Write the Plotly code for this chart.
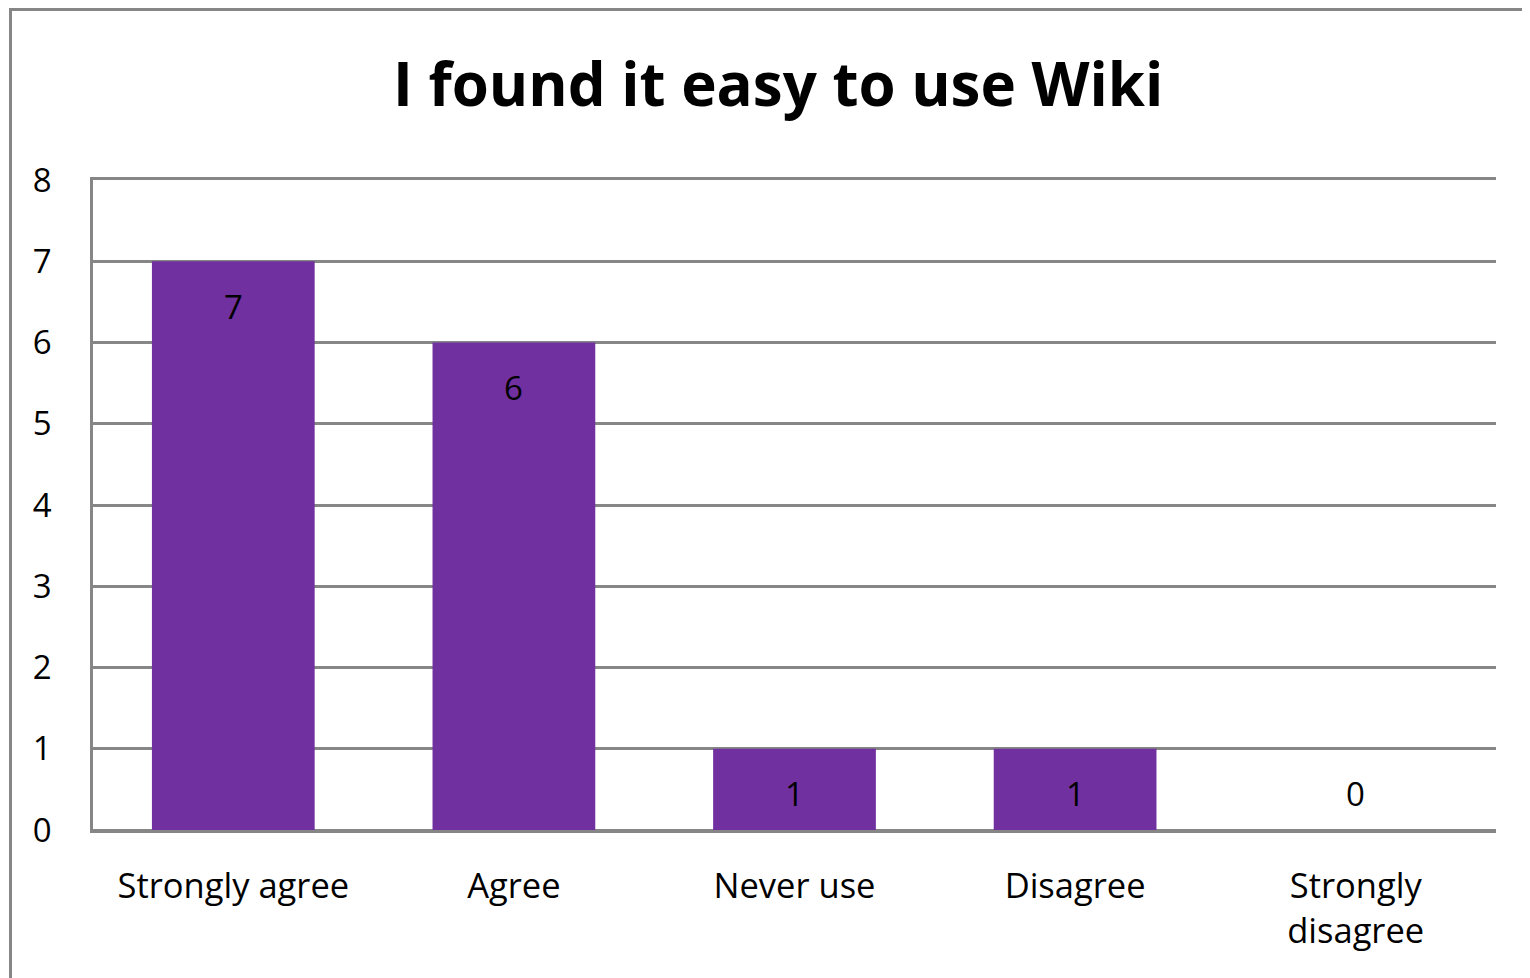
import plotly.graph_objects as go

categories = ["Strongly agree", "Agree", "Never use", "Disagree", "Strongly<br>disagree"]
values = [7, 6, 1, 1, 0]
y_ticks = [0, 1, 2, 3, 4, 5, 6, 7, 8]

PURPLE = "#7030A0"
GRID = "#868686"
FONT = "Open Sans"

fig = go.Figure(go.Bar(
    x=categories, y=values, marker_color=PURPLE, marker_line_width=0,
    hoverinfo="skip",
))

for c, v in zip(categories, values):
    fig.add_annotation(x=c, y=v, text=str(v), showarrow=False,
                       yshift=-45 if v > 0 else 37,
                       font=dict(family=FONT, size=33, color="black"))

# outer chart border
fig.add_shape(type="rect", xref="paper", yref="paper",
              x0=-0.0588, x1=1.1, y0=-0.4, y1=1.2625,
              line=dict(color=GRID, width=3), fillcolor="rgba(0,0,0,0)", layer="below")

fig.update_layout(
    width=1522, height=970,
    margin=dict(l=85, r=34, t=172, b=148),
    paper_bgcolor="white", plot_bgcolor="white",
    bargap=0.42,
    showlegend=False,
    title=dict(text="<b>I found it easy to use Wiki</b>", x=0.506, xanchor="center",
               y=0.921, yanchor="middle",
               font=dict(family=FONT, size=60, color="black")),
    font=dict(family=FONT, size=33, color="black"),
)
fig.update_xaxes(showgrid=False, showline=True, mirror=True, linecolor=GRID, linewidth=2.5,
                 ticks="", ticklabelstandoff=24,
                 tickfont=dict(family=FONT, size=34.5, color="black"))
fig.update_yaxes(range=[0, 8], tickvals=y_ticks, showgrid=True, gridcolor=GRID, gridwidth=2.5,
                 zeroline=True, zerolinecolor=GRID, zerolinewidth=2.5,
                 showline=True, linecolor=GRID, linewidth=2.5, ticks="",
                 ticklabelstandoff=32, tickfont=dict(family=FONT, size=33, color="black"))

fig.write_html("out.html")
